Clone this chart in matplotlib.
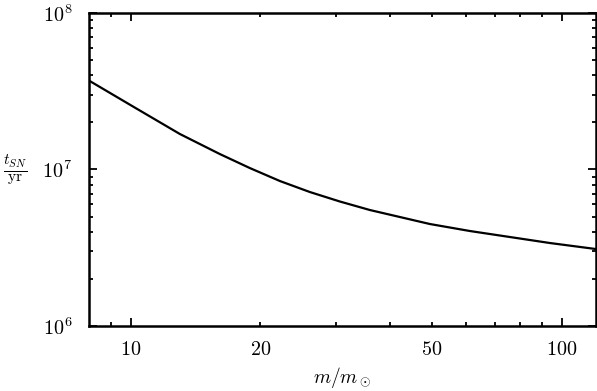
import numpy as np
import matplotlib
matplotlib.use('Agg')
import matplotlib.pyplot as plt
from matplotlib.ticker import FixedLocator, FixedFormatter, NullFormatter

# ****** Data ******
mass = [7.99, 10.21, 13.00, 16.09, 18.89, 22.18, 26.04, 30.57, 35.89,
        42.12, 49.45, 61.25, 75.86, 93.94, 120.1]
t_sn = [3.706e7, 2.490e7, 1.686e7, 1.256e7, 1.022e7, 8.445e6, 7.181e6, 6.246e6, 5.511e6,
        4.973e6, 4.486e6, 4.047e6, 3.705e6, 3.392e6, 3.105e6]

x_major = [10, 100]
x_minor = [9, 20, 30, 40, 50, 60, 70, 80, 90]
x_labels_major = ['$10$', '$100$']
x_labels_minor = ['', '$20$', '', '', '$50$', '', '', '', '']

y_major = [1e6, 1e7, 1e8]
y_labels = ['$10^6$', '$10^7$', '$10^8$']

# ****** Plot ******
plt.rcParams['mathtext.fontset'] = 'cm'
plt.rcParams['font.family'] = 'serif'
plt.rcParams['font.serif'] = ['DejaVu Serif']

fig = plt.figure(figsize=(5.97, 3.91), dpi=100)
ax = fig.add_axes([0.149, 0.166, 0.849, 0.801])

ax.plot(mass, t_sn, color='black', linewidth=1.6)

ax.set_xscale('log')
ax.set_yscale('log')
ax.set_xlim(8, 120)
ax.set_ylim(1e6, 1e8)

ax.xaxis.set_major_locator(FixedLocator(x_major))
ax.xaxis.set_major_formatter(FixedFormatter(x_labels_major))
ax.xaxis.set_minor_locator(FixedLocator(x_minor))
ax.xaxis.set_minor_formatter(FixedFormatter(x_labels_minor))

ax.yaxis.set_major_locator(FixedLocator(y_major))
ax.yaxis.set_major_formatter(FixedFormatter(y_labels))
y_minor = [m * 10 ** e for e in (6, 7) for m in range(2, 10)]
ax.yaxis.set_minor_locator(FixedLocator(y_minor))
ax.yaxis.set_minor_formatter(NullFormatter())

ax.tick_params(which='both', direction='in', top=True, right=True, width=1.3, labelsize=14.5)
ax.tick_params(axis='x', which='both', pad=10)
ax.tick_params(axis='y', which='both', pad=12)
ax.tick_params(which='major', length=6)
ax.tick_params(which='minor', length=3)

for spine in ax.spines.values():
    spine.set_linewidth(1.8)

ax.set_xlabel(r'$m/m_\odot$', fontsize=14, labelpad=4)
ax.set_ylabel(r'$\frac{t_{SN}}{\rm yr}$', fontsize=16, rotation=0, labelpad=20, va='center')

fig.savefig('out.png', dpi=100)
